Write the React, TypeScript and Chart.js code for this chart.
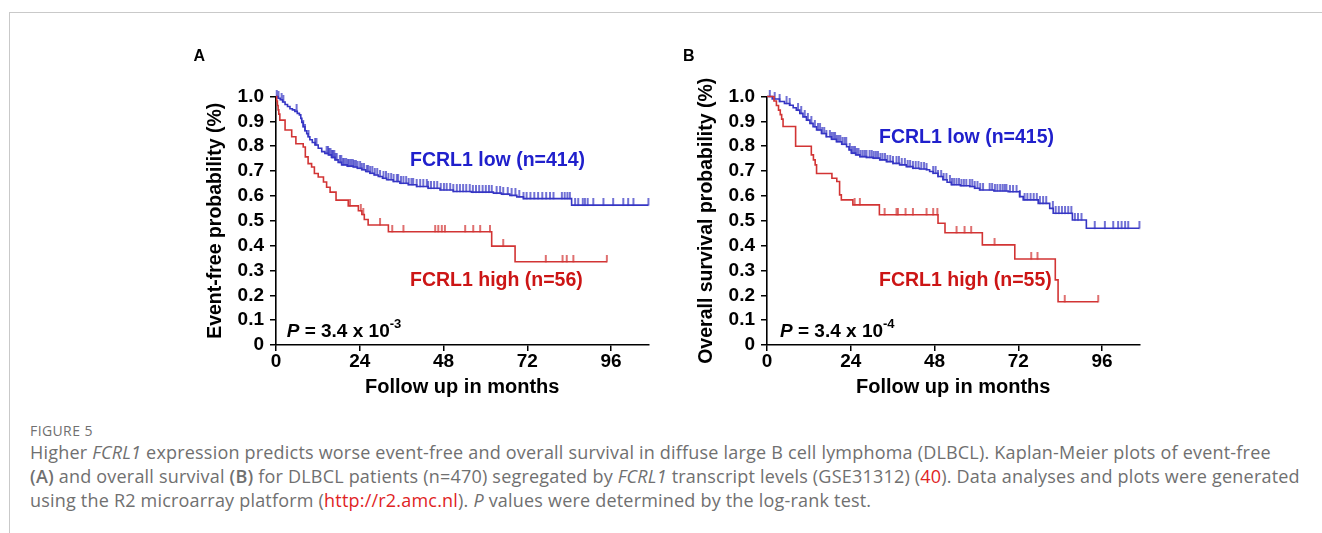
import React, { useEffect, useRef } from 'react';
import { Chart, registerables } from 'chart.js';

Chart.register(...registerables);

// ---------- axes ----------
const X_TICKS = [0, 24, 48, 72, 96];
const Y_TICKS = [0, 0.1, 0.2, 0.3, 0.4, 0.5, 0.6, 0.7, 0.8, 0.9, 1.0];
const X_MAX = 106.7;
const X_TITLE = 'Follow up in months';

// ---------- Panel A: event-free survival ----------
const efsLowTimes = [0, 0.6, 1.2, 1.9, 2.6, 3.3, 4.0, 4.7, 5.4, 6.1, 6.7, 7.1, 7.4, 7.8, 8.3, 8.8, 9.2, 9.7, 10.4, 11.2, 12.1, 13.1, 14.0, 15.0, 15.9, 16.9, 17.8, 18.8, 20.4, 22.1, 23.3, 24.6, 25.7, 26.9, 28.1, 29.3, 30.5, 31.7, 33.6, 35.5, 37.9, 40.3, 43.6, 47.0, 50.8, 56.0, 62.3, 64.6, 67.0, 69.0, 70.9, 84.7];
const efsLowSurv = [1.0, 0.993, 0.987, 0.978, 0.968, 0.96, 0.951, 0.946, 0.94, 0.932, 0.926, 0.912, 0.896, 0.878, 0.862, 0.85, 0.838, 0.826, 0.815, 0.805, 0.792, 0.778, 0.771, 0.765, 0.755, 0.745, 0.735, 0.725, 0.72, 0.716, 0.711, 0.705, 0.698, 0.691, 0.684, 0.678, 0.671, 0.665, 0.658, 0.651, 0.645, 0.638, 0.631, 0.624, 0.618, 0.615, 0.611, 0.607, 0.602, 0.596, 0.589, 0.563];
const efsLowCensor = [0.2, 0.7, 1.6, 2.1, 5.9, 7.8, 8.3, 9.3, 11.2, 11.6, 14.5, 14.9, 15.2, 15.6, 16.0, 16.3, 16.7, 17.0, 17.4, 18.3, 18.7, 19.2, 19.6, 20.1, 20.6, 21.0, 21.5, 22.0, 22.4, 22.9, 23.4, 24.1, 24.6, 25.2, 26.0, 26.4, 27.0, 27.6, 28.3, 29.0, 29.8, 30.8, 31.5, 32.2, 33.0, 33.7, 34.6, 35.0, 35.8, 36.5, 37.3, 38.0, 38.8, 39.3, 40.3, 41.3, 42.2, 43.2, 43.6, 44.4, 45.3, 46.2, 47.2, 48.1, 48.9, 49.9, 50.8, 51.8, 52.7, 53.6, 54.5, 55.5, 56.4, 57.3, 58.2, 59.2, 60.1, 61.0, 61.8, 63.2, 64.2, 65.1, 66.4, 67.5, 68.6, 69.7, 70.9, 71.8, 72.9, 74.0, 75.1, 76.3, 77.4, 78.5, 79.5, 81.9, 82.7, 83.5, 84.2, 85.7, 86.6, 87.9, 88.5, 89.3, 90.9, 93.8, 96.6, 99.5, 100.9, 102.4, 106.7];

const efsHighTimes = [0, 0.2, 0.4, 0.6, 0.8, 1.1, 2.6, 4.5, 5.7, 7.8, 8.4, 9.2, 10.2, 11.0, 12.1, 13.6, 14.5, 15.5, 17.2, 20.7, 23.6, 24.6, 25.3, 26.4, 32.2, 61.8, 68.5];
const efsHighSurv = [1.0, 0.982, 0.964, 0.946, 0.929, 0.905, 0.865, 0.838, 0.81, 0.797, 0.757, 0.73, 0.716, 0.69, 0.676, 0.656, 0.635, 0.615, 0.583, 0.56, 0.54, 0.525, 0.505, 0.483, 0.456, 0.398, 0.335];
const efsHighCensor = [21.2, 24.3, 25.0, 29.8, 33.3, 36.5, 45.6, 46.5, 47.5, 48.4, 54.2, 56.5, 58.5, 61.3, 65.1, 77.3, 82.1, 83.3, 85.2, 94.8];

// ---------- Panel B: overall survival ----------
const osLowTimes = [0, 1.5, 3.6, 5.0, 6.5, 7.5, 8.4, 9.4, 10.3, 11.3, 12.3, 13.2, 14.2, 15.6, 17.0, 18.5, 19.9, 21.4, 22.8, 23.5, 24.2, 25.4, 26.6, 28.5, 30.4, 32.3, 34.2, 36.1, 38.0, 39.9, 41.8, 43.7, 45.7, 46.6, 47.6, 49.0, 50.4, 51.6, 52.8, 55.4, 58.1, 59.5, 60.9, 65.0, 69.1, 72.4, 73.4, 77.7, 81.0, 82.0, 87.5, 91.5];
const osLowSurv = [1.0, 0.99, 0.98, 0.972, 0.965, 0.955, 0.945, 0.932, 0.918, 0.905, 0.892, 0.878, 0.865, 0.851, 0.838, 0.828, 0.818, 0.808, 0.798, 0.785, 0.772, 0.765, 0.758, 0.755, 0.752, 0.745, 0.738, 0.731, 0.725, 0.718, 0.711, 0.708, 0.705, 0.698, 0.691, 0.678, 0.665, 0.655, 0.645, 0.641, 0.638, 0.631, 0.624, 0.62, 0.617, 0.597, 0.584, 0.57, 0.55, 0.53, 0.503, 0.47];
const osLowCensor = [0.8, 2.2, 3.6, 5.6, 6.5, 8.9, 9.8, 10.8, 11.7, 12.7, 13.7, 14.6, 15.2, 15.8, 16.4, 17.0, 18.0, 18.5, 19.0, 19.5, 20.0, 20.5, 21.0, 21.6, 22.2, 22.7, 23.7, 24.2, 24.7, 25.2, 25.7, 26.2, 26.8, 27.4, 28.0, 28.5, 29.4, 30.0, 30.6, 31.2, 31.8, 32.5, 33.1, 33.8, 34.5, 35.3, 36.1, 37.1, 37.8, 38.6, 39.5, 40.3, 41.0, 41.8, 42.6, 43.4, 44.2, 45.0, 45.7, 47.6, 48.3, 49.0, 49.9, 50.6, 51.4, 52.4, 53.0, 53.6, 54.3, 55.0, 55.7, 56.4, 57.1, 58.1, 58.8, 59.5, 60.3, 61.1, 61.9, 63.8, 64.5, 65.3, 66.0, 66.8, 67.5, 68.1, 68.6, 69.6, 70.5, 71.5, 72.4, 73.8, 74.6, 75.5, 76.4, 77.3, 78.2, 79.1, 80.0, 81.9, 82.7, 83.6, 84.5, 85.4, 86.3, 87.2, 88.2, 89.1, 90.1, 93.9, 96.8, 99.2, 100.6, 101.6, 102.6, 103.5, 106.7];

const osHighTimes = [0, 2.0, 2.7, 3.3, 3.8, 4.2, 4.6, 8.2, 12.7, 13.3, 13.8, 14.2, 18.6, 20.0, 20.8, 21.3, 24.6, 32.2, 49.0, 51.0, 61.7, 71.0, 82.6, 83.4];
const osHighSurv = [1.0, 0.982, 0.964, 0.945, 0.927, 0.909, 0.879, 0.80, 0.765, 0.745, 0.725, 0.69, 0.671, 0.658, 0.604, 0.584, 0.564, 0.524, 0.49, 0.452, 0.403, 0.346, 0.262, 0.174];
const osHighCensor = [25.1, 26.6, 33.7, 37.1, 37.5, 39.7, 41.8, 45.7, 47.6, 48.8, 54.3, 56.6, 58.5, 65.2, 75.7, 77.5, 85.3, 94.9];

// ---------- styles ----------
const BLUE = '#3535c4';
const RED = '#d23434';
const BLUE_TXT = '#2020cc';
const RED_TXT = '#cc1515';
const FONT = "'Liberation Sans', Arial, sans-serif";

function stepLine(times: number[], surv: number[], censor: number[]) {
  const pts = times.map((t, i) => ({ x: t, y: surv[i] }));
  const end = Math.max(times[times.length - 1], ...censor);
  pts.push({ x: end, y: surv[surv.length - 1] });
  return pts;
}

function survAt(times: number[], surv: number[], t: number) {
  let s = surv[0];
  for (let i = 0; i < times.length; i++) {
    if (times[i] <= t) s = surv[i];
    else break;
  }
  return s;
}

function censorPoints(times: number[], surv: number[], censor: number[]) {
  return censor.map((c) => ({ x: c, y: survAt(times, surv, c) }));
}

// vertical censor tick that rises from the curve
function tickImage(color: string) {
  const h = 7;
  const c = document.createElement('canvas');
  c.width = 4;
  c.height = h * 2;
  const ctx = c.getContext('2d')!;
  ctx.fillStyle = color;
  ctx.fillRect(1.3, 0, 1.4, h + 0.5);
  return c;
}

const CANVAS_W = 480;
const CANVAS_H = 380;
const PAD_TOP = 56.5;
const PAD_RIGHT = 11.6;
const Y_AXIS_W = 96;
const AREA_BOTTOM = 305; // canvas px

type PanelProps = {
  left: number;
  top: number;
  yTitle: string;
  lowT: number[]; lowS: number[]; lowC: number[];
  highT: number[]; highS: number[]; highC: number[];
};

function KMPanel(p: PanelProps) {
  const ref = useRef<HTMLCanvasElement | null>(null);
  useEffect(() => {
    if (!ref.current) return;
    const tickFont = { family: FONT, size: 19, weight: 'bold' as const, lineHeight: 1 };
    const chart = new Chart(ref.current, {
      type: 'scatter',
      data: {
        datasets: [
          { data: stepLine(p.highT, p.highS, p.highC), showLine: true, stepped: 'before', borderColor: RED, borderWidth: 1.6, pointRadius: 0, clip: false } as any,
          { data: censorPoints(p.highT, p.highS, p.highC), showLine: false, pointStyle: tickImage(RED), pointRadius: 3, clip: false } as any,
          { data: stepLine(p.lowT, p.lowS, p.lowC), showLine: true, stepped: 'before', borderColor: BLUE, borderWidth: 1.6, pointRadius: 0, clip: false } as any,
          { data: censorPoints(p.lowT, p.lowS, p.lowC), showLine: false, pointStyle: tickImage(BLUE), pointRadius: 3, clip: false } as any,
        ],
      },
      options: {
        animation: false,
        responsive: false,
        devicePixelRatio: 1,
        layout: { padding: { top: PAD_TOP, right: PAD_RIGHT, bottom: 0, left: 0 } },
        plugins: { legend: { display: false }, tooltip: { enabled: false } },
        events: [],
        scales: {
          x: {
            type: 'linear',
            min: 0,
            max: X_MAX,
            afterBuildTicks: (s: any) => { s.ticks = X_TICKS.map((v) => ({ value: v })); },
            afterFit: (s: any) => { s.height = CANVAS_H - AREA_BOTTOM; },
            ticks: { font: tickFont, color: '#000', padding: 1, maxRotation: 0, autoSkip: false },
            grid: { drawOnChartArea: false, drawTicks: true, tickLength: 6, color: '#000', lineWidth: 1.5 },
            border: { display: true, color: '#000', width: 1.6 },
            title: { display: true, text: X_TITLE, color: '#000', font: { family: FONT, size: 20, weight: 'bold', lineHeight: 1.2 }, padding: { top: 0, bottom: 20.5 } },
          },
          y: {
            type: 'linear',
            min: 0,
            max: 1,
            afterBuildTicks: (s: any) => { s.ticks = Y_TICKS.map((v) => ({ value: v })); },
            afterFit: (s: any) => { s.width = Y_AXIS_W; },
            ticks: { font: tickFont, color: '#000', padding: 6, callback: (v: any) => (v === 0 ? '0' : Number(v).toFixed(1)) },
            grid: { drawOnChartArea: false, drawTicks: true, tickLength: 6, color: '#000', lineWidth: 1.5 },
            border: { display: true, color: '#000', width: 1.6 },
            title: { display: true, text: p.yTitle, color: '#000', font: { family: FONT, size: 19.5, weight: 'bold', lineHeight: 1.2 }, padding: { top: 23.5, bottom: 0 } },
          },
        },
      } as any,
    });
    return () => chart.destroy();
  }, []);
  return (
    <canvas
      ref={ref}
      width={CANVAS_W}
      height={CANVAS_H}
      style={{ position: 'absolute', left: p.left, top: p.top, width: CANVAS_W, height: CANVAS_H }}
    />
  );
}

// text placed by baseline (Liberation Sans, line-height 1 => baseline at 0.8465em)
function Label(props: { x: number; baseline: number; size: number; color: string; children: any }) {
  return (
    <div
      style={{
        position: 'absolute',
        left: props.x,
        top: props.baseline - 0.8465 * props.size,
        fontFamily: FONT,
        fontWeight: 'bold',
        fontSize: props.size,
        lineHeight: 1,
        color: props.color,
        whiteSpace: 'nowrap',
      }}
    >
      {props.children}
    </div>
  );
}

function PValue(props: { x: number; exp: string }) {
  return (
    <Label x={props.x} baseline={336.7} size={19} color="#000">
      <i>P</i> = 3.4 x 10
      <span style={{ fontSize: 13, position: 'relative', top: -8.5 }}>{props.exp}</span>
    </Label>
  );
}

const CAP_FONT = "'Open Sans', 'Noto Sans', sans-serif";
const CAP_COLOR = '#707070';
const LINK = '#e0241f';

function CaptionLine(props: { top: number; children: any }) {
  return (
    <div
      style={{
        position: 'absolute',
        left: 30,
        top: props.top,
        fontFamily: CAP_FONT,
        fontSize: 18,
        lineHeight: '20px',
        letterSpacing: 0.2,
        color: CAP_COLOR,
        whiteSpace: 'nowrap',
      }}
    >
      {props.children}
    </div>
  );
}

export default function App() {
  return (
    <div style={{ position: 'absolute', left: 0, top: 0, width: 1322, height: 533, background: '#fff', overflow: 'hidden' }}>
      <div style={{ position: 'absolute', left: 9, top: 12, width: 1400, height: 600, borderTop: '1px solid #c9c9c9', borderLeft: '1px solid #c9c9c9' }} />

      <KMPanel left={180} top={40} yTitle="Event-free probability (%)"
        lowT={efsLowTimes} lowS={efsLowSurv} lowC={efsLowCensor}
        highT={efsHighTimes} highS={efsHighSurv} highC={efsHighCensor} />
      <KMPanel left={671.3} top={40} yTitle="Overall survival probability (%)"
        lowT={osLowTimes} lowS={osLowSurv} lowC={osLowCensor}
        highT={osHighTimes} highS={osHighSurv} highC={osHighCensor} />

      <Label x={193.5} baseline={61.7} size={16} color="#000">A</Label>
      <Label x={683} baseline={61.7} size={16} color="#000">B</Label>

      <Label x={410} baseline={167} size={19.5} color={BLUE_TXT}>FCRL1 low (n=414)</Label>
      <Label x={410} baseline={286.7} size={19.5} color={RED_TXT}>FCRL1 high (n=56)</Label>
      <Label x={879} baseline={144} size={19.5} color={BLUE_TXT}>FCRL1 low (n=415)</Label>
      <Label x={879} baseline={286.7} size={19.5} color={RED_TXT}>FCRL1 high (n=55)</Label>

      <PValue x={286.7} exp="-3" />
      <PValue x={780} exp="-4" />

      <div style={{ position: 'absolute', left: 30, top: 423, fontFamily: CAP_FONT, fontSize: 14, lineHeight: '16px', color: CAP_COLOR, letterSpacing: 0.4 }}>FIGURE 5</div>
      <CaptionLine top={442}>
        Higher <i>FCRL1</i> expression predicts worse event-free and overall survival in diffuse large B cell lymphoma (DLBCL). Kaplan-Meier plots of event-free
      </CaptionLine>
      <CaptionLine top={466}>
        <b style={{ fontWeight: 600 }}>(A)</b> and overall survival <b style={{ fontWeight: 600 }}>(B)</b> for DLBCL patients (n=470) segregated by <i>FCRL1</i> transcript levels (GSE31312) (<span style={{ color: LINK }}>40</span>). Data analyses and plots were generated
      </CaptionLine>
      <CaptionLine top={490}>
        using the R2 microarray platform (<span style={{ color: LINK }}>http://r2.amc.nl</span>). <i>P</i> values were determined by the log-rank test.
      </CaptionLine>
    </div>
  );
}
